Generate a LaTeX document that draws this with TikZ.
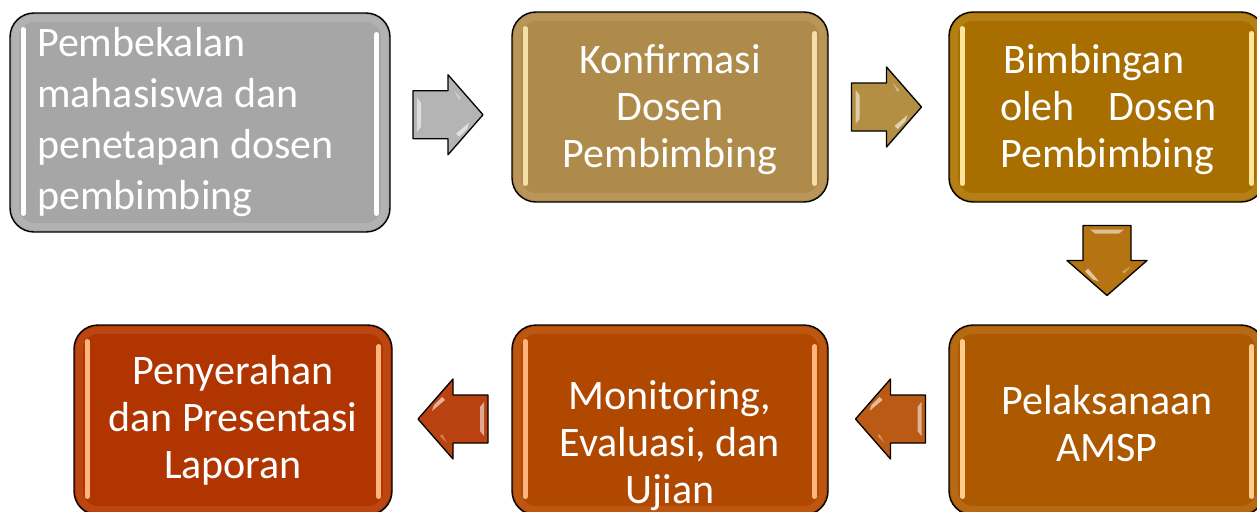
\documentclass[tikz,border=0pt]{standalone}
\usepackage{fontspec}
\setmainfont{Carlito}
\usetikzlibrary{calc}
\definecolor{gbox}{HTML}{A6A6A6}
\definecolor{tbox}{HTML}{AF8B4B}
\definecolor{bbox}{HTML}{A86F00}
\definecolor{pbox}{HTML}{AC5900}
\definecolor{mbox}{HTML}{B04800}
\definecolor{rbox}{HTML}{B03500}
\definecolor{garr}{HTML}{B4B4B4}
\definecolor{tarr}{HTML}{B48E42}
\definecolor{darr}{HTML}{B57312}
\definecolor{parr}{HTML}{BA5A14}
\definecolor{marr}{HTML}{BA4210}
\definecolor{gglo}{HTML}{FFFFFF}
\definecolor{tglo}{HTML}{F6DFA6}
\definecolor{bglo}{HTML}{FFE49A}
\definecolor{pglo}{HTML}{FFCC8E}
\definecolor{mglo}{HTML}{FFB47E}
\begin{document}
\begin{tikzpicture}[x=1pt,y=-1pt,
  box/.style={draw=black, line width=1.4pt, rounded corners=24pt, inner sep=0pt},
  lbl/.style={text=white, font=\fontsize{42}{47}\selectfont, inner sep=0pt},
  glossbar/.style={line width=4.5pt, line cap=round},
  rim/.style={line width=7pt, rounded corners=19pt, opacity=0.14},
  blockarrow/.pic={
    \path[draw=black, line width=1.3pt, line join=round, pic actions]
      (-35,-24) -- (0,-24) -- (0,-40) -- (35,0) -- (0,40) -- (0,24) -- (-35,24) -- cycle;
    \fill[white, opacity=0.55] (-31,-17) -- (-27,-12) -- (-27,12) -- (-31,17) -- cycle;
    \fill[white, opacity=0.6] (8,19) -- (21,8) -- (19,14) -- (11,22) -- cycle;
    \fill[white, opacity=0.35] (6,-24) -- (13,-17) -- (11,-15) -- cycle;
  }]
\useasboundingbox (0,0) rectangle (1257,511);
\clip (0,0) rectangle (1257,511);
\fill[white] (0,0) rectangle (1257,511);

\newcommand\glossy[2]{%
  \draw[rim, #2] ([shift={(6pt,-6pt)}]#1.north west) rectangle ([shift={(-6pt,6pt)}]#1.south east);
  \draw[glossbar, #2] ([shift={(14pt,-17pt)}]#1.north west) -- ([shift={(14pt,19pt)}]#1.south west);
  \draw[glossbar, #2] ([shift={(-14pt,-22pt)}]#1.north east) -- ([shift={(-14pt,19pt)}]#1.south east);
}

% boxes
\node[box, fill=gbox, minimum width=380pt, minimum height=219pt] (b1) at (200,122.5) {};
\node[box, fill=tbox, minimum width=316pt, minimum height=190pt] (b2) at (670,107) {};
\node[box, fill=bbox, minimum width=316pt, minimum height=190pt] (b3) at (1107,107) {};
\node[box, fill=pbox, minimum width=316pt, minimum height=190pt] (b4) at (1107,420) {};
\node[box, fill=mbox, minimum width=316pt, minimum height=190pt] (b5) at (670,420) {};
\node[box, fill=rbox, minimum width=318pt, minimum height=190pt] (b6) at (233,420) {};

\glossy{b1}{gglo}
\glossy{b2}{tglo}
\glossy{b3}{bglo}
\glossy{b4}{pglo}
\glossy{b5}{mglo}
\glossy{b6}{mglo}

% texts
\node[lbl, anchor=west, align=left, font=\fontsize{42}{51}\selectfont] (t1) at (37,122) {Pembekalan\\mahasiswa dan\\penetapan dosen\\pembimbing};
\node[lbl, align=center] (t2) at (670,110) {Konfirmasi\\Dosen\\Pembimbing};
\node[lbl, anchor=west, text width=216pt, align=left] (t3) at (1000,110) {\hspace{3pt}Bimbingan\\oleh\hfill Dosen\\Pembimbing};
\node[lbl, align=center] (t4) at (1107,424) {Pelaksanaan\\AMSP};
\node[lbl, align=center] (t5) at (670,446) {Monitoring,\\Evaluasi, dan\\Ujian};
\node[lbl, align=center] (t6) at (233,420) {Penyerahan\\dan Presentasi\\Laporan};

% block arrows between boxes
\pic[fill=garr] at ($(b1.east)!0.5!(b2.west)+(-3,0)$) {blockarrow};
\pic[fill=tarr] at ($(b2.east)!0.5!(b3.west)+(-2,0)$) {blockarrow};
\pic[fill=darr, rotate=-90] at ($(b3.south)!0.5!(b4.north)+(0,-3)$) {blockarrow};
\pic[fill=parr, rotate=180] at ($(b4.west)!0.5!(b5.east)+(2,-1)$) {blockarrow};
\pic[fill=marr, rotate=180] at ($(b5.west)!0.5!(b6.east)+(1,-1)$) {blockarrow};
\end{tikzpicture}
\end{document}
